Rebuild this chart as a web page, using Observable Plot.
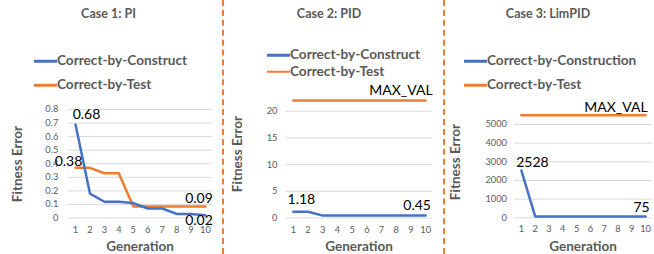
<!DOCTYPE html>
<html><head><meta charset="utf-8">
<script src="https://cdn.jsdelivr.net/npm/d3@7"></script>
<script src="https://cdn.jsdelivr.net/npm/@observablehq/plot@0.6"></script>
<style>
html,body{margin:0;padding:0;background:#fff;}
#chart{position:relative;width:654px;height:254px;overflow:hidden;font-family:Lato,sans-serif;}
.abs{position:absolute;white-space:nowrap;line-height:1;}
.title{font-weight:700;font-size:12.5px;color:#595959;transform:translate(-50%,-50%);}
.legtext{font-weight:700;font-size:13.6px;color:#595959;transform:translateY(-50%);}
.legline{height:2.5px;transform:translateY(-50%);}
.axt{font-weight:700;font-size:13.5px;color:#595959;transform:translate(-50%,-50%);}
.axty{font-weight:700;font-size:13.5px;color:#595959;transform:translate(-50%,-50%) rotate(-90deg);}
.sep{position:absolute;top:0;height:254px;width:0;border-left:2px dashed #ED7D31;}
.plot{position:absolute;top:0;}
</style></head><body><div id="chart"></div>
<script>
const generations = [1, 2, 3, 4, 5, 6, 7, 8, 9, 10];
const case1Construct = [0.69, 0.18, 0.12, 0.12, 0.11, 0.07, 0.07, 0.03, 0.03, 0.02];
const case1Test = [0.37, 0.37, 0.33, 0.33, 0.085, 0.085, 0.085, 0.085, 0.085, 0.085];
const case2Construct = [1.18, 1.18, 0.45, 0.45, 0.45, 0.45, 0.45, 0.45, 0.45, 0.45];
const case2Test = [22, 22, 22, 22, 22, 22, 22, 22, 22, 22];
const case3Construct = [2528, 75, 75, 75, 75, 75, 75, 75, 75, 75];
const case3Test = [5500, 5500, 5500, 5500, 5500, 5500, 5500, 5500, 5500, 5500];
const case1Ticks = [0, 0.1, 0.2, 0.3, 0.4, 0.5, 0.6, 0.7, 0.8];
const case2Ticks = [0, 5, 10, 15, 20];
const case3Ticks = [0, 1000, 2000, 3000, 4000, 5000];
const titles = ["Case 1: PI", "Case 2: PID", "Case 3: LimPID"];
const constructNames = ["Correct-by-Construct", "Correct-by-Construct", "Correct-by-Construction"];
const testName = "Correct-by-Test";
const xTitle = "Generation";
const yTitle = "Fitness Error";
// data labels: which series, which generation, what text
const case1Labels = [
  {series: "construct", gen: 1, text: "0.68"},
  {series: "test", gen: 1, text: "0.38"},
  {series: "test", gen: 10, text: "0.09"},
  {series: "construct", gen: 10, text: "0.02"}
];
const case2Labels = [
  {series: "construct", gen: 1, text: "1.18"},
  {series: "construct", gen: 10, text: "0.45"},
  {series: "test", gen: 10, text: "MAX_VAL"}
];
const case3Labels = [
  {series: "construct", gen: 1, text: "2528"},
  {series: "construct", gen: 10, text: "75"},
  {series: "test", gen: 10, text: "MAX_VAL"}
];

const BLUE = "#4472C4", ORANGE = "#ED7D31";
const chart = document.getElementById("chart");

// layout (page coords)
const layout = [
  {svgLeft: 0, svgWidth: 222, gridLeft: 67.8, gridRight: 212.2, yTopPx: 109, y0Px: 217.5, tickPad: 10,
   titleX: 108.5, legLineX: 34, legY: [61, 85], xTitleX: 140, yTitleX: 17.5, yTitleY: 164,
   offsets: [{dx: 11, dy: -10, a: "middle"}, {dx: -7, dy: -6, a: "middle"}, {dx: -6.5, dy: -8, a: "middle"}, {dx: -6.5, dy: 5, a: "middle"}]},
  {svgLeft: 224, svgWidth: 216, gridLeft: 285.5, gridRight: 432.5, yTopPx: 110.7, y0Px: 217.5, tickPad: 8.5,
   titleX: 329, legLineX: 267, legY: [55, 71.5], xTitleX: 359, yTitleX: 238, yTitleY: 154,
   offsets: [{dx: 8, dy: -12, a: "middle"}, {dx: -8.5, dy: -10, a: "middle"}, {dx: 7, dy: -10, a: "end"}]},
  {svgLeft: 446, svgWidth: 208, gridLeft: 514, gridRight: 652, yTopPx: 124, y0Px: 217.3, tickPad: 7.5,
   titleX: 548, legLineX: 464, legY: [61, 85], xTitleX: 583, yTitleX: 456, yTitleY: 162,
   offsets: [{dx: 11, dy: -8, a: "middle"}, {dx: -4, dy: -9, a: "middle"}, {dx: 2, dy: -8, a: "end"}]}
];

const panels = [
  {construct: case1Construct, test: case1Test, ticks: case1Ticks, labels: case1Labels, fmt: d => d === 0 ? "0" : d3.format(".1f")(d)},
  {construct: case2Construct, test: case2Test, ticks: case2Ticks, labels: case2Labels, fmt: d => String(d)},
  {construct: case3Construct, test: case3Test, ticks: case3Ticks, labels: case3Labels, fmt: d => String(d)}
];

function add(cls, styles, text) {
  const el = document.createElement("div");
  el.className = cls;
  Object.assign(el.style, styles);
  if (text != null) el.textContent = text;
  chart.appendChild(el);
  return el;
}

panels.forEach((p, k) => {
  const L = layout[k];
  const yMaxTick = p.ticks[p.ticks.length - 1];
  const rows = s => generations.map((g, i) => ({gen: g, value: p[s][i], series: s}));
  const cons = rows("construct"), test = rows("test");
  const labelRows = p.labels.map((l, j) => {
    const v = p[l.series][generations.indexOf(l.gen)];
    return {gen: l.gen, value: v, text: l.text, ...L.offsets[j]};
  });
  const height = 254;
  const svg = Plot.plot({
    width: L.svgWidth,
    height,
    marginLeft: L.gridLeft - L.svgLeft,
    marginRight: L.svgLeft + L.svgWidth - L.gridRight,
    marginTop: L.yTopPx,
    marginBottom: height - L.y0Px,
    style: {fontFamily: "Lato, sans-serif", fontSize: "9.3px", color: "#595959", background: "transparent", overflow: "visible"},
    x: {domain: [0.5, 10.5], ticks: generations, tickSize: 0, tickPadding: 8, label: null, tickFormat: d => String(d)},
    y: {domain: [0, yMaxTick], ticks: p.ticks, tickSize: 0, tickPadding: L.tickPad, label: null, tickFormat: p.fmt},
    marks: [
      Plot.ruleY(p.ticks, {x1: 0.5, x2: 10.5, stroke: "#d9d9d9", strokeWidth: 1}),
      Plot.line(test, {x: "gen", y: "value", stroke: ORANGE, strokeWidth: 2.5}),
      Plot.line(cons, {x: "gen", y: "value", stroke: BLUE, strokeWidth: 2.5}),
      ...labelRows.map(r => Plot.text([r], {x: "gen", y: "value", text: "text", dx: r.dx, dy: r.dy,
        textAnchor: r.a, lineAnchor: "middle", fill: "#000", fontSize: 14, fontFamily: "Lato, sans-serif"}))
    ]
  });
  svg.classList.add("plot");
  svg.style.left = L.svgLeft + "px";
  svg.style.position = "absolute";
  svg.style.top = "0px";
  chart.appendChild(svg);

  add("abs title", {left: L.titleX + "px", top: "14px"}, titles[k]);
  add("abs legline", {left: L.legLineX + "px", top: L.legY[0] + "px", width: "23px", background: BLUE});
  add("abs legtext", {left: (L.legLineX + 23) + "px", top: L.legY[0] + "px"}, constructNames[k]);
  add("abs legline", {left: L.legLineX + "px", top: L.legY[1] + "px", width: "23px", background: ORANGE});
  add("abs legtext", {left: (L.legLineX + 23) + "px", top: L.legY[1] + "px"}, testName);
  add("abs axt", {left: L.xTitleX + "px", top: "247px"}, xTitle);
  add("abs axty", {left: L.yTitleX + "px", top: L.yTitleY + "px"}, yTitle);
});

add("sep", {left: "222px"});
add("sep", {left: "443px"});
</script>
</body></html>
